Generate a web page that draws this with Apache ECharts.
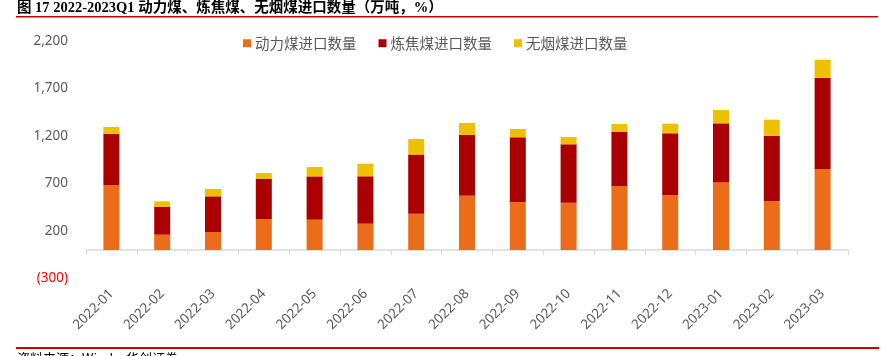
<!DOCTYPE html>
<html>
<head>
<meta charset="utf-8">
<script src="https://cdn.jsdelivr.net/npm/echarts@6/dist/echarts.min.js"></script>
<style>
html,body{margin:0;padding:0;background:#fff;}
#c{width:887px;height:356px;}
</style>
</head>
<body>
<div id="c"></div>
<script>
const categories = ['2022-01','2022-02','2022-03','2022-04','2022-05','2022-06','2022-07','2022-08','2022-09','2022-10','2022-11','2022-12','2023-01','2023-02','2023-03'];
const thermalCoal = [681,161,189,326,319,277,382,572,502,498,674,579,712,516,853];
const cokingCoal = [543,295,376,425,456,499,622,639,684,614,568,649,621,687,961];
const anthracite = [71,56,77,59,99,133,164,126,88,77,84,102,141,169,189];
const seriesNames = ['动力煤进口数量','炼焦煤进口数量','无烟煤进口数量'];
const yTicks = {min:-300, max:2200, interval:500};
const titleText = '图 17 2022-2023Q1 动力煤、炼焦煤、无烟煤进口数量（万吨，%）';
const sourceText = '资料来源：Wind，华创证券';

const chart = echarts.init(document.getElementById('c'), null, {renderer:'canvas'});
const colors = ['#EC6D19','#AB0000','#EFC000'];
const labelFont = '"Noto Sans","Noto Sans CJK SC",sans-serif';
function fmt(v){
  const s = Math.abs(v).toLocaleString('en-US');
  return v < 0 ? '{neg|(' + s + ')}' : s;
}
const dataSets = [thermalCoal, cokingCoal, anthracite];
chart.setOption({
  animation:false,
  color: colors,
  grid:{left:86, right:39, top:41, bottom:77.5, containLabel:false},
  legend:{
    left:238, top:31, icon:'rect', itemWidth:8, itemHeight:8, itemGap:22,
    textStyle:{color:'#595959', fontSize:14.5, fontFamily:'"Noto Sans CJK SC",sans-serif', padding:[0,0,0,-1]},
    data: seriesNames
  },
  xAxis:{
    type:'category', data:categories,
    axisLine:{onZero:true, lineStyle:{color:'#D9D9D9', width:1.5}},
    axisTick:{show:true, length:5, lineStyle:{color:'#D9D9D9'}},
    axisLabel:{rotate:45, margin:13, color:'#595959', fontSize:13.5, fontFamily:labelFont, interval:0}
  },
  yAxis:{
    type:'value', min:yTicks.min, max:yTicks.max, interval:yTicks.interval,
    axisLine:{show:false}, axisTick:{show:false}, splitLine:{show:false},
    axisLabel:{margin:18, color:'#595959', fontSize:13.5, fontFamily:labelFont, formatter:fmt,
      rich:{neg:{color:'#FF0000', fontSize:13.5, fontFamily:labelFont}}}
  },
  series: seriesNames.map((n,i)=>({
    name:n, type:'bar', stack:'total', barWidth:16, data:dataSets[i],
    itemStyle:{color:colors[i]}
  })),
  graphic:[
    {type:'text', left:17, top:1, style:{text:titleText, fill:'#000', font:'bold 14.5px "Liberation Serif","Noto Sans CJK SC",serif'}},
    {type:'line', shape:{x1:16,y1:16.7,x2:878,y2:16.7}, style:{stroke:'#C00000', lineWidth:1.5}},
    {type:'line', shape:{x1:16,y1:348,x2:879,y2:348}, style:{stroke:'#D00000', lineWidth:2}},
    {type:'text', left:17, top:352, style:{text:sourceText, fill:'#000', font:'13px "Noto Sans CJK SC",sans-serif'}}
  ]
});
</script>
</body>
</html>
